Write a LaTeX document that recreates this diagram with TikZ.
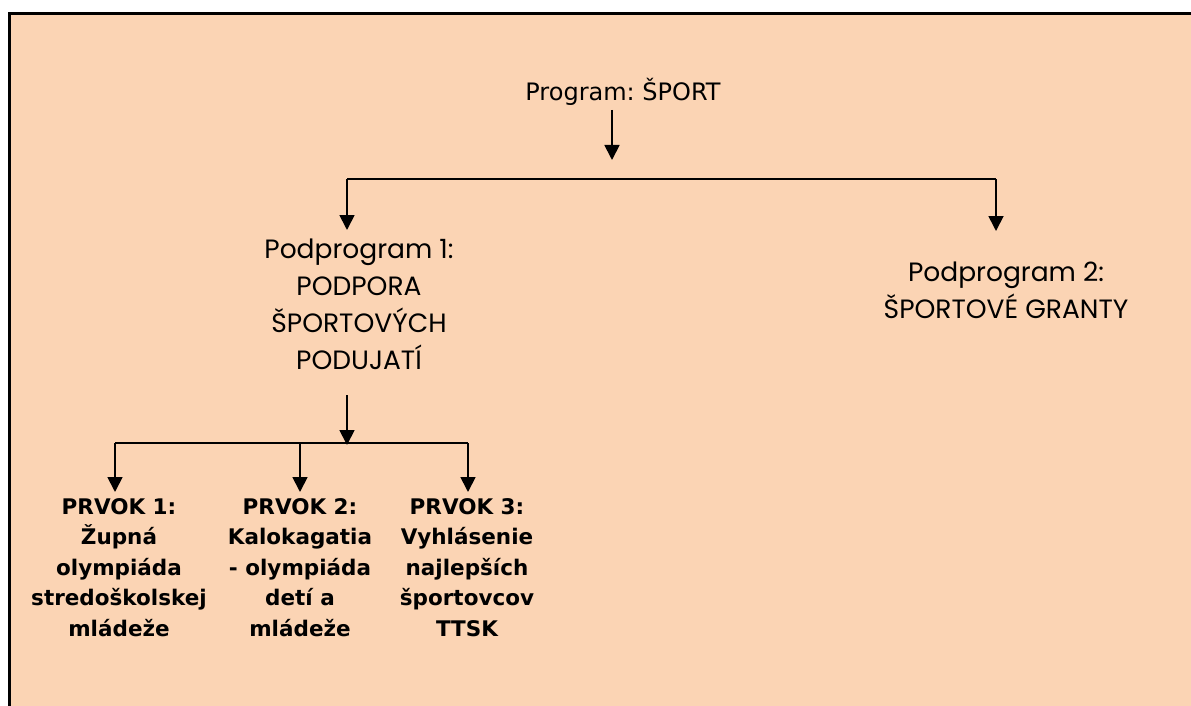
\documentclass[tikz,border=0pt]{standalone}
\usepackage{fontspec}
\usetikzlibrary{arrows.meta}
\newfontfamily\progfont{DejaVu Sans}
\newfontfamily\gothicfont{Poppins}
\newfontfamily\elemfont{DejaVu Sans}
\definecolor{peach}{HTML}{FBD4B4}
\frenchspacing
\begin{document}
\begin{tikzpicture}[x=1pt,y=-1pt,
  conn/.style={line width=1.8pt},
  arr/.style={conn,-{Triangle[width=15pt,length=15pt]}},
  prog/.style={inner sep=0pt,font=\progfont\fontsize{24}{28}\selectfont},
  sub/.style={inner sep=0pt,align=center,font=\gothicfont\fontsize{26.5}{37}\selectfont},
  elem/.style={inner sep=0pt,align=center,anchor=north,font=\elemfont\bfseries\fontsize{21.5}{30.5}\selectfont}]
% page and frame
\useasboundingbox (0,0) rectangle (1191,706);
\fill[white] (0,0) rectangle (1191,706);
\draw[fill=peach,line width=3pt] (9.5,13.5) rectangle (1210,730);

% program
\node[prog] (program) at (623,92) {Program: ŠPORT};
\coordinate (p0) at (612,110);
\coordinate (p1) at (612,160);
\draw[arr] (p0) -- (p1);

% split to the two subprograms
\coordinate (sL) at (347,179);
\coordinate (sR) at (996,179);
\coordinate (aL) at (347,230);
\coordinate (aR) at (996,231);
\draw[conn] (sL) -- (sR);
\draw[arr] (sL) -- (aL);
\draw[arr] (sR) -- (aR);

\node[sub] (sub1) at (359,304) {Podprogram 1:\\PODPORA\\ŠPORTOVÝCH\\PODUJATÍ};
\node[sub] (sub2) at (1006,290) {Podprogram 2:\\ŠPORTOVÉ GRANTY};

% split to the three elements
\coordinate (q0) at (347,395);
\coordinate (q1) at (347,445);
\draw[arr] (q0) -- (q1);
\coordinate (e1) at (115,443);
\coordinate (e2) at (300,443);
\coordinate (e3) at (468,443);
\draw[conn] (e1) -- (e3);
\coordinate (t1) at (115,492);
\coordinate (t2) at (300,492);
\coordinate (t3) at (468,492);
\draw[arr] (e1) -- (t1);
\draw[arr] (e2) -- (t2);
\draw[arr] (e3) -- (t3);

\node[elem] (el1) at (119,498) {PRVOK 1:\\Župná\\olympiáda\\stredoškolskej\\mládeže};
\node[elem] (el2) at (300,498) {PRVOK 2:\\Kalokagatia\\- olympiáda\\detí a\\mládeže};
\node[elem] (el3) at (467,498) {PRVOK 3:\\Vyhlásenie\\najlepších\\športovcov\\TTSK};
\end{tikzpicture}
\end{document}
